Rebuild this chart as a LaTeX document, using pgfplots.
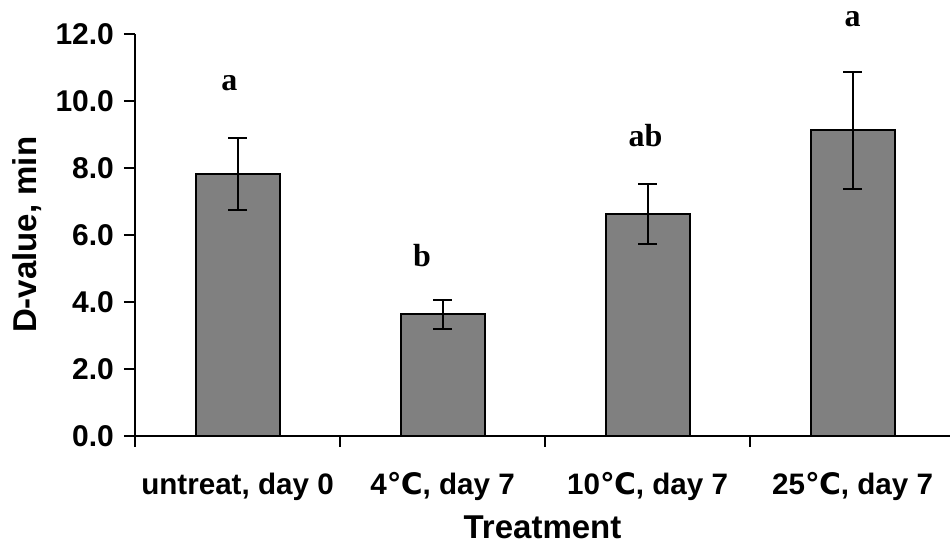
\documentclass[border=0pt]{standalone}
\usepackage{fontspec}
\setmainfont{Liberation Sans}
\newfontfamily\timesfont{Liberation Serif}
\newfontfamily\dejavu{DejaVu Sans}
\usepackage{pgfplots}
\pgfplotsset{compat=1.18}
\definecolor{barg}{HTML}{808080}
\newcommand{\degc}{{\dejavu ℃}}
\begin{document}
\begin{tikzpicture}
\begin{axis}[
  scale only axis, width=407.5pt, height=200.85pt,
  xmin=-0.5, xmax=3.475, ymin=0, ymax=12,
  clip=false,
  axis lines*=left,
  axis line style={line width=1pt, black},
  tick align=outside,
  major tick length=5.5pt, minor tick length=5.5pt,
  tick style={line width=1pt, black},
  ytick={0,2,4,6,8,10,12},
  xtick={0,1,2,3},
  minor xtick={-0.5,0.5,1.5,2.5},
  major x tick style={draw=none},
  xticklabels={{untreat, day 0},{4\degc, day 7},{10\degc, day 7},{25\degc, day 7}},
  /pgf/number format/assume math mode=true,
  yticklabel style={/pgf/number format/fixed, /pgf/number format/fixed zerofill, /pgf/number format/precision=1,
    font=\bfseries\fontsize{15}{18}\selectfont, xshift=-1.5pt},
  xticklabel style={font=\bfseries\fontsize{14.8}{17.5}\selectfont, yshift=-9.5pt},
  xlabel={Treatment},
  ylabel={D-value, min},
  label style={font=\bfseries\fontsize{16.5}{20}\selectfont},
  xlabel style={at={(axis description cs:0.5,-0.227)}, anchor=center},
  ylabel style={at={(axis description cs:-0.1325,0.5)}, anchor=center},
]
\addplot[ybar, bar width=42pt, fill=barg, draw=black, line width=1pt,
  error bars/.cd, y dir=both, y explicit,
  error bar style={line width=1pt, black},
  error mark options={rotate=90, mark size=4.75pt, line width=1pt, black}]
  coordinates {
    (0,7.82) +- (0,1.08)
    (1,3.63) +- (0,0.43)
    (2,6.62) +- (0,0.90)
    (3,9.12) +- (0,1.75)
  };
\node[font=\timesfont\bfseries\fontsize{16}{19}\selectfont, anchor=base] at (axis cs:-0.04,10.31) {a};
\node[font=\timesfont\bfseries\fontsize{16}{19}\selectfont, anchor=base] at (axis cs:0.90,5.05) {b};
\node[font=\timesfont\bfseries\fontsize{16}{19}\selectfont, anchor=base] at (axis cs:1.99,8.64) {ab};
\node[font=\timesfont\bfseries\fontsize{16}{19}\selectfont, anchor=base] at (axis cs:3.0,12.22) {a};
\end{axis}
\pgfresetboundingbox
\useasboundingbox (-67.5pt,-58.15pt) rectangle (407.5pt,217.85pt);
\end{tikzpicture}
\end{document}
